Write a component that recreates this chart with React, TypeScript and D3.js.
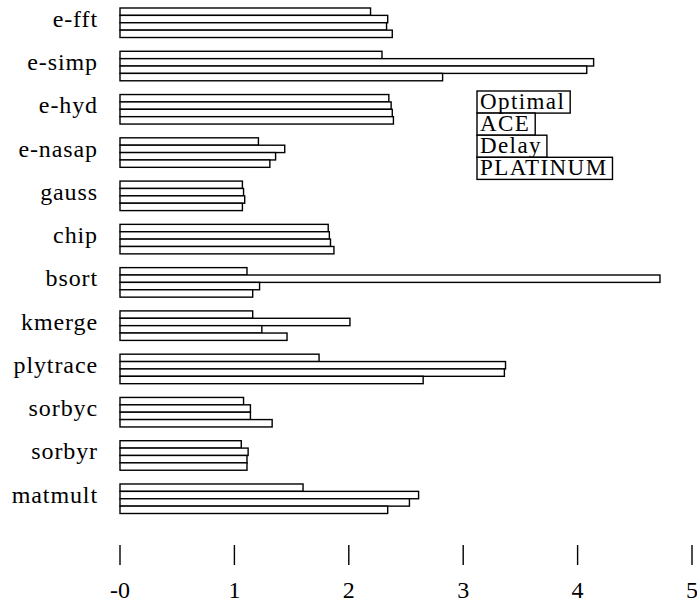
import React, { useEffect, useRef } from "react";
import * as d3 from "d3";

const categories = ["e-fft", "e-simp", "e-hyd", "e-nasap", "gauss", "chip", "bsort", "kmerge", "plytrace", "sorbyc", "sorbyr", "matmult"];
const seriesNames = ["Optimal", "ACE", "Delay", "PLATINUM"];
const optimal = [2.19, 2.29, 2.35, 1.21, 1.07, 1.82, 1.11, 1.16, 1.74, 1.08, 1.06, 1.60];
const ace = [2.34, 4.14, 2.37, 1.44, 1.08, 1.83, 4.72, 2.01, 3.37, 1.14, 1.12, 2.61];
const delay = [2.33, 4.08, 2.38, 1.36, 1.09, 1.84, 1.22, 1.24, 3.36, 1.14, 1.11, 2.53];
const platinum = [2.38, 2.82, 2.39, 1.31, 1.07, 1.87, 1.16, 1.46, 2.65, 1.33, 1.11, 2.34];
const tickValues = [0, 1, 2, 3, 4, 5];
const tickLabels = ["-0", "1", "2", "3", "4", "5"];

const W = 697;
const H = 605;
const FONT = "'Liberation Serif', 'DejaVu Serif', 'Noto Serif', Tinos, 'Times New Roman', Times, 'Nimbus Roman', FreeSerif, serif";

export default function App() {
  const ref = useRef<SVGSVGElement | null>(null);

  useEffect(() => {
    const svg = d3.select(ref.current);
    svg.selectAll("*").remove();
    const series = [optimal, ace, delay, platinum];

    const x = d3.scaleLinear().domain([0, 5]).range([120, 692]);
    const y = d3.scaleBand<string>().domain(categories).range([8, 513.5]).paddingInner(0.318).paddingOuter(0);
    const sub = d3.scaleBand<string>().domain(seriesNames).range([0, y.bandwidth()]).padding(0);

    const groups = svg.append("g").selectAll("g").data(categories).join("g")
      .attr("transform", (d) => `translate(0,${y(d)})`);

    groups.each(function (cat, ci) {
      const g = d3.select(this);
      seriesNames.forEach((s, si) => {
        g.append("rect")
          .attr("x", x(0))
          .attr("y", sub(s)!)
          .attr("width", x(series[si][ci]) - x(0))
          .attr("height", sub.bandwidth())
          .attr("fill", "#fff")
          .attr("stroke", "#000")
          .attr("stroke-width", 1.4);
      });
      g.append("text")
        .attr("x", 98)
        .attr("y", y.bandwidth() / 2 + 4)
        .attr("text-anchor", "end")
        .style("font-family", FONT)
        .style("font-size", "24px")
        .style("letter-spacing", "0.9px")
        .attr("fill", "#000")
        .text(cat);
    });

    const axis = svg.append("g");
    tickValues.forEach((v, i) => {
      axis.append("line")
        .attr("x1", x(v)).attr("x2", x(v))
        .attr("y1", 545).attr("y2", 565)
        .attr("stroke", "#000").attr("stroke-width", 1.4);
      axis.append("text")
        .attr("x", x(v))
        .attr("y", 598)
        .attr("text-anchor", "middle")
        .style("font-family", FONT)
        .style("font-size", "24px")
        .attr("fill", "#000")
        .text(tickLabels[i]);
    });

    const legend = svg.append("g").attr("transform", "translate(477,91)");
    const boxH = 22.1;
    seriesNames.forEach((s, i) => {
      const t = legend.append("text")
        .attr("x", 3)
        .attr("y", i * boxH + 17.5)
        .style("font-family", FONT)
        .style("font-size", "23px")
        .style("letter-spacing", "1.4px")
        .attr("fill", "#000")
        .text(s);
      const w = (t.node() as SVGTextElement).getComputedTextLength();
      legend.insert("rect", "text")
        .attr("x", 0)
        .attr("y", i * boxH)
        .attr("width", w + 8)
        .attr("height", boxH)
        .attr("fill", "#fff")
        .attr("stroke", "#000")
        .attr("stroke-width", 1.4);
    });
  }, []);

  return (
    <svg ref={ref} width={W} height={H} style={{ position: "absolute", left: 0, top: 0, background: "#fff" }} />
  );
}
